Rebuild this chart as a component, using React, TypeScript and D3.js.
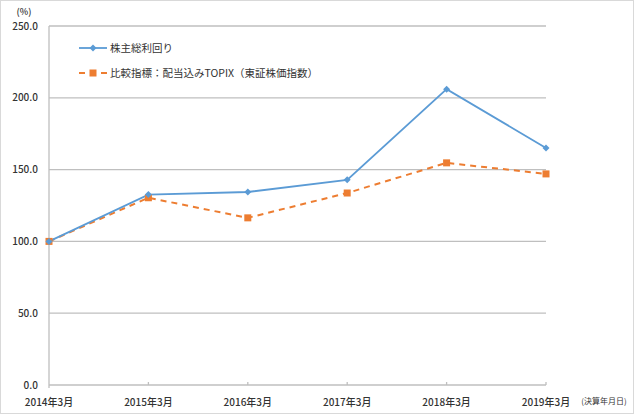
import React from "react";
import * as d3 from "d3";

const categories = ["2014年3月", "2015年3月", "2016年3月", "2017年3月", "2018年3月", "2019年3月"];
const tsrValues = [100, 132.6, 134.4, 142.9, 206.0, 165.1];
const topixValues = [100, 130.4, 116.4, 133.7, 154.7, 147.0];
const yTicks = [0, 50, 100, 150, 200, 250];
const seriesNames = ["株主総利回り", "比較指標：配当込みTOPIX（東証株価指数）"];

const W = 635;
const H = 416;
const FONT = "'Noto Sans CJK JP', 'Noto Sans', sans-serif";
const BLUE = "#5b9bd5";
const ORANGE = "#ed7d31";
const GRID = "#bfbfbf";

export default function App() {
  const x = d3.scalePoint<string>().domain(categories).range([49, 546]);
  const y = d3.scaleLinear().domain([0, 250]).range([385, 26]);
  const line = d3
    .line<number>()
    .x((_, i) => x(categories[i]) as number)
    .y((d) => y(d));

  return (
    <div style={{ position: "fixed", left: 0, top: 0 }}>
      <svg width={W} height={H} style={{ display: "block", fontFamily: FONT }}>
        <rect x={0} y={0} width={W} height={H} fill="#fff" />
        <rect x={0.5} y={0.5} width={633} height={413} fill="none" stroke="#d9d9d9" strokeWidth={1} />
        {yTicks.map((t) =>
          t === 0 ? null : (
            <line key={t} x1={49} x2={546} y1={y(t)} y2={y(t)} stroke={GRID} strokeWidth={1.3} />
          )
        )}
        <line x1={49} x2={49} y1={y(250)} y2={y(0) + 3} stroke={GRID} strokeWidth={1.3} />
        <line x1={49} x2={546} y1={y(0)} y2={y(0)} stroke={GRID} strokeWidth={1.3} />
        {categories.map((c, i) =>
          i === 0 ? null : (
            <line key={c} x1={x(c)} x2={x(c)} y1={y(0) - 3} y2={y(0)} stroke={GRID} strokeWidth={1.3} />
          )
        )}
        {yTicks.map((t) => (
          <text key={t} x={38} y={y(t) + 3.5} textAnchor="end" fontSize={10} fill="#333" fontWeight={500}>
            {t.toFixed(1)}
          </text>
        ))}
        <text x={24} y={15} textAnchor="middle" fontSize={9} fill="#333" fontWeight={500}>
          (%)
        </text>
        {categories.map((c) => (
          <text key={c} x={x(c)} y={406} textAnchor="middle" fontSize={10} fill="#333" fontWeight={500}>
            {c}
          </text>
        ))}
        <text x={604} y={404} textAnchor="middle" fontSize={8} fill="#333">
          (決算年月日)
        </text>
        <path d={line(topixValues) || ""} fill="none" stroke={ORANGE} strokeWidth={2} strokeDasharray="6,5" />
        <path d={line(tsrValues) || ""} fill="none" stroke={BLUE} strokeWidth={1.8} />
        {topixValues.map((v, i) => (
          <rect key={i} x={(x(categories[i]) as number) - 3.5} y={y(v) - 3.5} width={7} height={7} fill={ORANGE} />
        ))}
        {tsrValues.map((v, i) => {
          const cx = x(categories[i]) as number;
          const cy = y(v);
          return (
            <path key={i} d={`M${cx},${cy - 3.5}L${cx + 3.5},${cy}L${cx},${cy + 3.5}L${cx - 3.5},${cy}Z`} fill={BLUE} />
          );
        })}
        {/* legend */}
        <line x1={79} x2={107} y1={48} y2={48} stroke={BLUE} strokeWidth={1.8} />
        <path d="M93,44.5L96.5,48L93,51.5L89.5,48Z" fill={BLUE} />
        <text x={110} y={52} fontSize={10.5} fill="#333">
          {seriesNames[0]}
        </text>
        <line x1={79} x2={107} y1={73} y2={73} stroke={ORANGE} strokeWidth={2} strokeDasharray="6,5" />
        <rect x={89.5} y={69.5} width={7} height={7} fill={ORANGE} />
        <text x={110} y={77} fontSize={10.5} fill="#333">
          {seriesNames[1]}
        </text>
      </svg>
    </div>
  );
}
